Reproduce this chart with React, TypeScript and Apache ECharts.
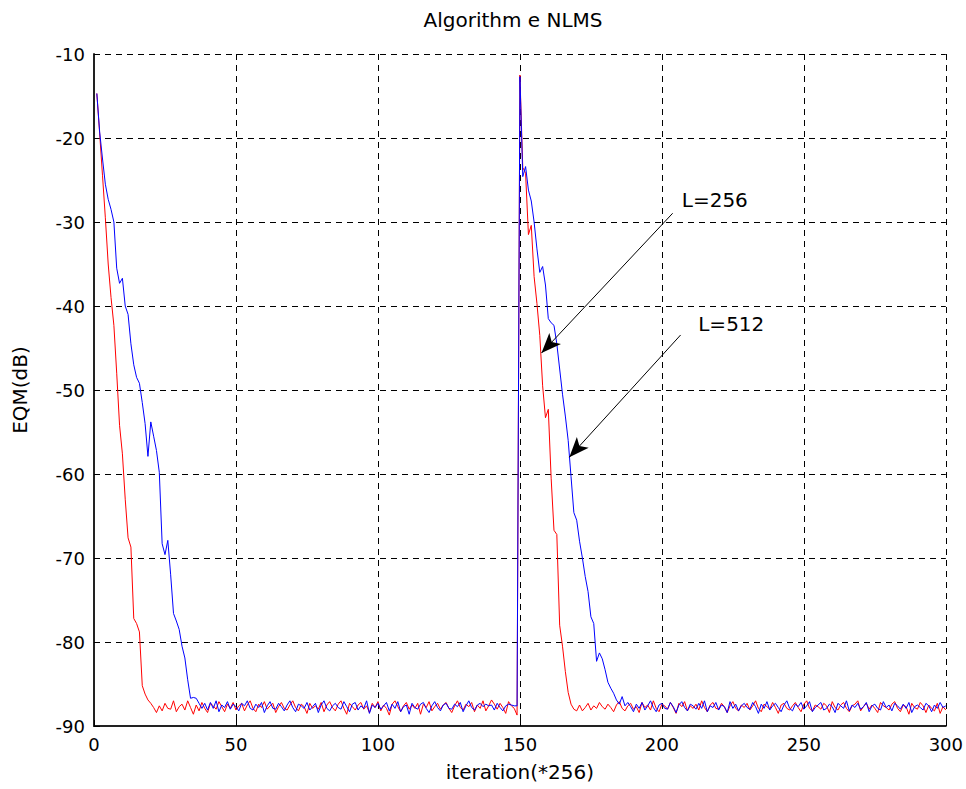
import React, { useEffect, useRef } from "react";
import * as echarts from "echarts";

const TITLE = "Algorithm e NLMS";
const X_NAME = "iteration(*256)";
const Y_NAME = "EQM(dB)";

const X_MIN = 0;
const X_MAX = 300;
const X_STEP = 50;
const Y_MIN = -90;
const Y_MAX = -10;
const Y_STEP = 10;

// L=256 (red): iterations 1..300
const redHead1 = [
  -14.7, -19.5, -24.5, -29.5, -35.0, -39.0, -42.3, -48.0, -54.2, -57.6,
  -63.0, -67.6, -68.7, -77.2, -77.8, -78.8, -85.2, -86.2, -86.9, -87.3,
  -87.8, -88.4,
];
const redFloor1 = [
  -87.6, -88.2, -87.3, -87.9, -88.0, -87.0, -88.3, -87.7, -87.4, -88.1,
  -87.0, -87.8, -88.6, -87.5, -88.2, -87.2, -87.9, -88.4, -87.3, -87.6,
  -88.0, -87.1, -87.7, -88.3, -87.4, -87.9, -87.2, -88.1, -87.6, -87.3,
  -88.2, -87.5, -87.0, -87.9, -88.3, -87.4, -87.8, -87.1, -88.0, -87.6,
  -87.3, -88.4, -87.7, -87.2, -87.9, -88.1, -87.5, -87.0, -87.8, -88.2,
  -87.4, -87.7, -88.5, -87.3, -87.9, -87.6, -88.0, -87.2, -88.3, -87.5,
  -87.1, -87.8, -88.2, -87.4, -87.0, -87.9, -88.6, -87.3, -87.7, -88.1,
  -87.5, -87.2, -88.0, -87.6, -88.4, -87.3, -87.8, -87.1, -88.2, -87.5,
  -87.9, -88.7, -87.4, -87.0, -87.7, -88.3, -87.6, -87.2, -88.0, -87.5,
  -87.9, -87.3, -88.6, -87.4, -87.8, -87.1, -88.2, -87.7, -87.3, -88.0,
  -87.5, -87.2, -87.9, -88.4, -87.6, -87.0, -87.8, -88.1, -87.4, -87.7,
  -87.2, -88.3, -87.5, -87.9, -87.0, -88.2, -87.6, -86.9, -87.4, -88.0,
  -87.3, -87.8, -88.5, -87.1, -87.6, -87.9, -88.7,
];
const redHead2 = [
  -12.5, -23.5, -24.2, -31.5, -30.4, -36.5, -39.7, -43.5, -49.5, -53.3,
  -52.3, -60.5, -66.7, -67.2, -78.0, -80.5, -83.5, -86.0, -87.4, -88.0,
  -88.2,
];
const redFloor2 = [
  -87.5, -88.2, -87.8, -87.3, -88.1, -87.6, -87.9, -87.2, -87.7, -88.0,
  -87.4, -87.8, -88.3, -87.5, -87.1, -87.9, -88.2, -87.6, -87.3, -88.0,
  -87.7, -88.4, -87.2, -87.8, -87.5, -88.1, -87.0, -87.9, -88.3, -87.4,
  -87.6, -88.0, -87.2, -87.8, -88.5, -87.3, -87.7, -87.1, -88.2, -87.6,
  -87.9, -87.4, -88.1, -87.0, -87.8, -88.3, -87.5, -87.2, -87.9, -88.0,
  -87.3, -87.7, -88.4, -87.6, -87.1, -87.9, -88.2, -87.5, -87.8, -87.3,
  -88.1, -87.6, -87.0, -87.9, -88.3, -87.4, -87.7, -88.0, -87.2, -87.8,
  -88.5, -87.5, -87.3, -87.9, -88.1, -87.6, -87.2, -87.8, -88.3, -87.4,
  -87.0, -87.9, -88.2, -87.5, -87.7, -88.0, -87.3, -87.6, -88.4, -87.1,
  -87.8, -88.1, -87.5, -87.2, -87.9, -88.3, -87.6, -87.4, -87.0, -88.2,
  -87.7, -87.3, -88.0, -87.5, -87.9, -88.4, -87.2, -87.6, -87.8, -88.1,
  -87.4, -87.1, -87.9, -88.3, -87.5, -87.7, -88.6, -87.3, -87.8, -88.0,
  -87.2, -87.6, -88.4, -87.5, -87.9, -88.2, -87.3, -88.5, -87.7, -88.1,
];

// L=512 (blue): iterations 1..300
const blueHead1 = [
  -14.7, -19.3, -22.5, -25.5, -27.3, -28.5, -30.0, -35.5, -37.3, -36.7,
  -40.0, -41.0, -44.5, -47.0, -48.5, -49.2, -51.5, -54.0, -57.9, -53.8,
  -55.5, -57.2, -59.8, -68.3, -69.6, -67.9, -72.0, -76.6, -77.5, -78.5,
  -80.5, -81.9, -84.5, -86.7, -86.6, -86.7, -87.3, -87.9, -87.3, -88.1,
];
const blueFloor1 = [
  -87.2, -87.9, -87.0, -88.3, -87.5, -87.8, -87.1, -88.0, -87.4, -87.7,
  -88.2, -87.3, -87.6, -87.0, -87.9, -88.1, -87.4, -87.8, -87.2, -88.4,
  -87.6, -87.1, -87.9, -88.0, -87.3, -87.7, -88.2, -87.5, -87.0, -87.8,
  -88.3, -87.4, -87.6, -87.9, -87.2, -88.1, -87.7, -87.3, -88.4, -87.5,
  -87.0, -87.9, -88.2, -87.6, -87.3, -87.8, -88.0, -87.1, -87.7, -88.3,
  -87.4, -87.2, -88.1, -87.6, -87.9, -87.0, -88.5, -87.5, -87.8, -87.3,
  -88.0, -87.6, -87.2, -88.2, -87.4, -87.9, -87.1, -88.3, -87.7, -87.5,
  -88.6, -87.3, -87.8, -88.0, -87.4, -87.2, -87.9, -88.4, -87.6, -87.1,
  -87.8, -88.2, -87.5, -87.3, -87.9, -88.0, -87.4, -87.7, -87.2, -88.3,
  -87.6, -87.0, -87.8, -88.1, -87.5, -87.3, -87.7, -87.4, -87.6, -87.5,
  -88.1, -87.3, -87.8, -88.2, -87.6, -87.4, -87.5, -87.6, -87.6,
];
const blueHead2 = [
  -12.7, -24.6, -23.4, -26.2, -27.5, -30.0, -33.2, -36.0, -35.3, -37.5,
  -41.5, -42.0, -42.3, -44.5, -47.5, -50.5, -53.1, -56.0, -60.3, -64.6,
  -65.5, -68.0, -70.0, -72.2, -74.0, -77.0, -77.8, -82.3, -81.3, -82.0,
  -83.3, -84.8, -85.5, -86.1, -86.9, -87.4, -86.5, -87.6, -87.2, -87.7,
  -88.3,
];
const blueFloor2 = [
  -87.4, -87.9, -87.2, -88.1, -87.6, -87.0, -87.8, -88.3, -87.5, -87.3,
  -87.9, -88.0, -87.2, -87.7, -88.4, -87.5, -87.1, -87.8, -88.2, -87.4,
  -87.6, -88.0, -87.3, -87.9, -87.0, -88.3, -87.6, -87.8, -87.2, -88.1,
  -87.5, -87.7, -88.4, -87.1, -87.9, -87.4, -88.2, -87.6, -87.3, -87.8,
  -88.0, -87.2, -87.7, -88.5, -87.4, -87.9, -87.1, -88.1, -87.6, -87.3,
  -87.8, -88.3, -87.5, -87.0, -87.9, -88.2, -87.4, -87.7, -87.2, -88.0,
  -87.6, -87.1, -88.3, -87.8, -87.5, -87.2, -88.1, -87.9, -87.4, -87.7,
  -88.4, -87.3, -87.6, -87.9, -87.0, -88.2, -87.5, -87.8, -87.3, -88.0,
  -87.7, -87.2, -88.3, -87.6, -87.4, -87.9, -88.1, -87.1, -87.8, -87.5,
  -88.2, -87.3, -87.6, -88.0, -87.4, -87.9, -87.2, -88.4, -87.7, -87.5,
  -87.8, -88.1, -87.3, -87.6, -88.3, -87.5, -87.9, -87.2, -87.8, -87.6,
];

const FIRST_ITERATION = 1;

// annotations (data coordinates)
const annotationTexts = ["L=256", "L=512"];
const annotationTextAt = [
  [207.0, -27.4],
  [212.8, -42.1],
];
const arrowFrom = [
  [203.8, -28.96],
  [206.6, -43.45],
];
const arrowTo = [
  [157.6, -45.6],
  [167.4, -58.0],
];

const FONT = "DejaVu Sans";

export default function App() {
  const ref = useRef<HTMLDivElement>(null);

  useEffect(() => {
    if (!ref.current) return;
    const chart = echarts.init(ref.current, null, { renderer: "svg" });

    const red = [...redHead1, ...redFloor1, ...redHead2, ...redFloor2];
    const blue = [...blueHead1, ...blueFloor1, ...blueHead2, ...blueFloor2];
    const redData = red.map((v, i) => [i + FIRST_ITERATION, v]);
    const blueData = blue.map((v, i) => [i + FIRST_ITERATION, v]);

    const axisCommon = {
      axisLine: { show: true, onZero: false, lineStyle: { color: "#222", width: 2 } },
      axisTick: { show: true, inside: true, length: 6, lineStyle: { color: "#000", width: 1 } },
      splitLine: { show: true, lineStyle: { type: [6, 5], color: "#000", width: 1 } },
      nameTextStyle: { color: "#000", fontSize: 20, fontFamily: FONT },
    };

    chart.setOption({
      animation: false,
      backgroundColor: "#fff",
      title: {
        text: TITLE,
        left: 513,
        top: 10,
        padding: 0,
        textAlign: "center",
        textStyle: { color: "#000", fontSize: 20, fontWeight: "normal", fontFamily: FONT },
      },
      grid: { left: 94, right: 20, top: 54, bottom: 63, containLabel: false },
      xAxis: {
        type: "value",
        min: X_MIN,
        max: X_MAX,
        interval: X_STEP,
        name: X_NAME,
        nameLocation: "middle",
        nameGap: 36,
        axisLabel: { color: "#000", fontSize: 18, fontFamily: FONT, margin: 9 },
        ...axisCommon,
      },
      yAxis: {
        type: "value",
        min: Y_MIN,
        max: Y_MAX,
        interval: Y_STEP,
        name: Y_NAME,
        nameLocation: "middle",
        nameGap: 64,
        axisLabel: { color: "#000", fontSize: 18, fontFamily: FONT, margin: 9 },
        ...axisCommon,
      },
      series: [
        {
          name: "L=256",
          type: "line",
          data: redData,
          showSymbol: false,
          symbol: "none",
          lineStyle: { color: "#ff0000", width: 1 },
          itemStyle: { color: "#ff0000" },
          z: 3,
          markLine: {
            silent: true,
            symbol: ["none", "arrow"],
            symbolSize: [12, 20],
            label: { show: false },
            lineStyle: { color: "#000", width: 1, type: "solid" },
            itemStyle: { color: "#000" },
            data: arrowFrom.map((p, i) => [
              { coord: p },
              { coord: arrowTo[i] },
            ]),
          },
          markPoint: {
            silent: true,
            symbol: "circle",
            symbolSize: 0,
            label: {
              show: true,
              position: "right",
              distance: 0,
              color: "#000",
              fontSize: 20,
              fontFamily: FONT,
              formatter: (p: any) => p.name,
            },
            data: annotationTexts.map((t, i) => ({ name: t, coord: annotationTextAt[i] })),
          },
        },
        {
          name: "L=512",
          type: "line",
          data: blueData,
          showSymbol: false,
          symbol: "none",
          lineStyle: { color: "#0000ff", width: 1 },
          itemStyle: { color: "#0000ff" },
          z: 4,
        },
      ],
    });

    return () => chart.dispose();
  }, []);

  return (
    <div
      ref={ref}
      style={{ position: "absolute", left: 0, top: 0, width: 966, height: 789, background: "#fff" }}
    />
  );
}
